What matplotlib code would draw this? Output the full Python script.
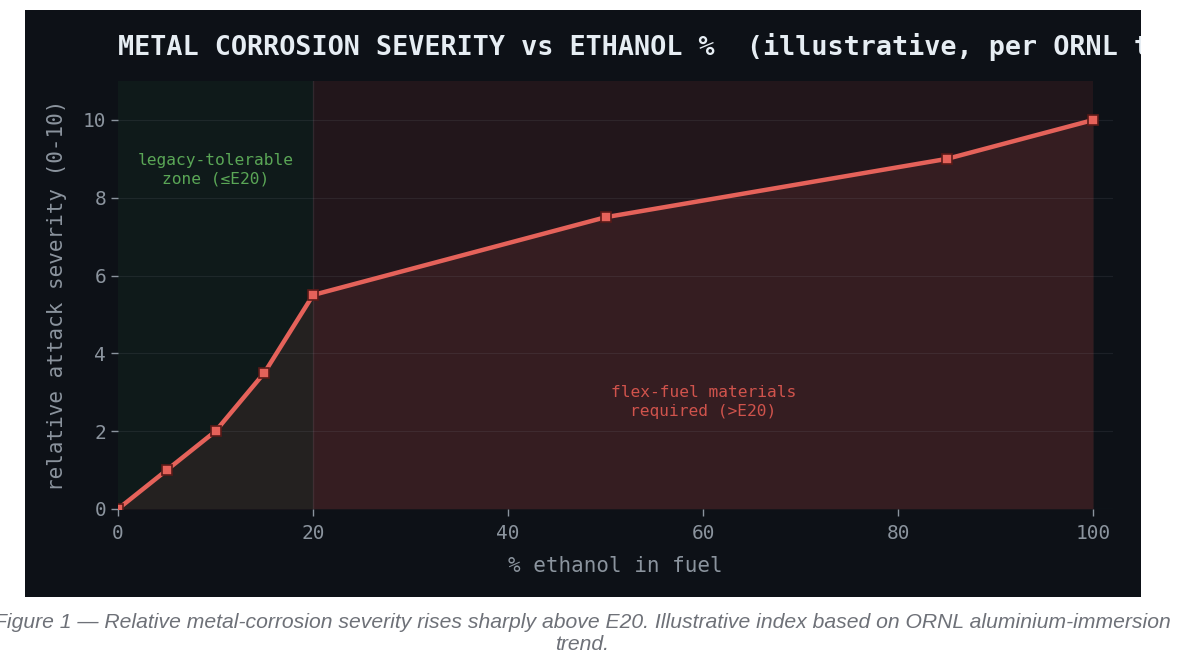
import numpy as np
import matplotlib
matplotlib.use("Agg")
import matplotlib.pyplot as plt
from matplotlib.patches import Rectangle
from matplotlib.transforms import Bbox

# ---------- data ----------
ethanol_pct = [0, 5, 10, 15, 20, 50, 85, 100]
severity = [0, 1, 2, 3.5, 5.5, 7.5, 9, 10]
x_ticks = [0, 20, 40, 60, 80, 100]
y_ticks = [0, 2, 4, 6, 8, 10]
legacy_zone = (0, 20)
flex_zone = (20, 100)

BG = "#0d1117"
FG = "#e6edf3"
MUTED = "#8b949e"
RED = "#e5625a"
GREEN = "#3fb950"
MONO = "DejaVu Sans Mono"

W, H = 1179, 654
fig = plt.figure(figsize=(W / 100, H / 100), dpi=100, facecolor="white")

# dark panel holding the chart (behind the axes)
px0, py0, px1, py1 = 25, 10, 1141, 597
panel = Rectangle((px0 / W, 1 - py1 / H), (px1 - px0) / W, (py1 - py0) / H,
                  transform=fig.transFigure, facecolor=BG, edgecolor="none", zorder=-10)
fig.patches.append(panel)

ax = fig.add_axes([118 / W, 1 - 509 / H, (1113 - 118) / W, (509 - 81) / H])
ax.set_zorder(1)
ax.set_facecolor(BG)
ax.set_xlim(0, 102)
ax.set_ylim(0, 11)

ax.axvspan(*legacy_zone, color=GREEN, alpha=0.06, lw=0)
ax.axvspan(*flex_zone, color="#f85149", alpha=0.09, lw=0)
ax.axvline(20, color=MUTED, alpha=0.15, lw=1)
ax.fill_between(ethanol_pct, severity, 0, color=RED, alpha=0.10, lw=0)
ax.plot(ethanol_pct, severity, color=RED, lw=3.2, marker="s", ms=7,
        mfc=RED, mec="#5a1a18", mew=1.2, zorder=5)

ax.set_xticks(x_ticks)
ax.set_yticks(y_ticks)
ax.grid(axis="y", color=MUTED, alpha=0.12, lw=0.8)
ax.tick_params(colors=MUTED, labelsize=14, length=5, width=1)
ax.tick_params(axis="x", pad=6)
for lab in ax.get_xticklabels() + ax.get_yticklabels():
    lab.set_family(MONO)
for s in ax.spines.values():
    s.set_visible(False)

ax.set_xlabel("% ethanol in fuel", color=MUTED, fontsize=15, family=MONO, labelpad=9)
ax.set_ylabel("relative attack severity (0-10)", color=MUTED, fontsize=15, family=MONO, labelpad=11)

ax.text(10, 8.72, "legacy-tolerable\nzone (≤E20)", color="#5aa656", fontsize=11.7,
        family=MONO, ha="center", va="center", linespacing=1.3)
ax.text(60, 2.75, "flex-fuel materials\nrequired (>E20)", color="#d0534c", fontsize=11.7,
        family=MONO, ha="center", va="center", linespacing=1.3)

# title runs past the panel edge and is cut there
title = fig.text(118 / W, 1 - 47 / H,
                 "METAL CORROSION SEVERITY vs ETHANOL %  (illustrative, per ORNL trend)",
                 color=FG, fontsize=19.25, fontweight="bold", family=MONO, ha="left", va="center")
title.set_clip_box(Bbox.from_extents(px0, H - py1, px1, H - py0))
title.set_clip_on(True)

fig.text(582 / W, 1 - 634 / H,
         "Figure 1 — Relative metal-corrosion severity rises sharply above E20. "
         "Illustrative index based on ORNL aluminium-immersion\ntrend.",
         color="#6e7178", fontsize=15.2, style="italic", family="Liberation Sans",
         ha="center", va="center", linespacing=1.2)

fig.savefig("out.png", dpi=100, facecolor="white")
